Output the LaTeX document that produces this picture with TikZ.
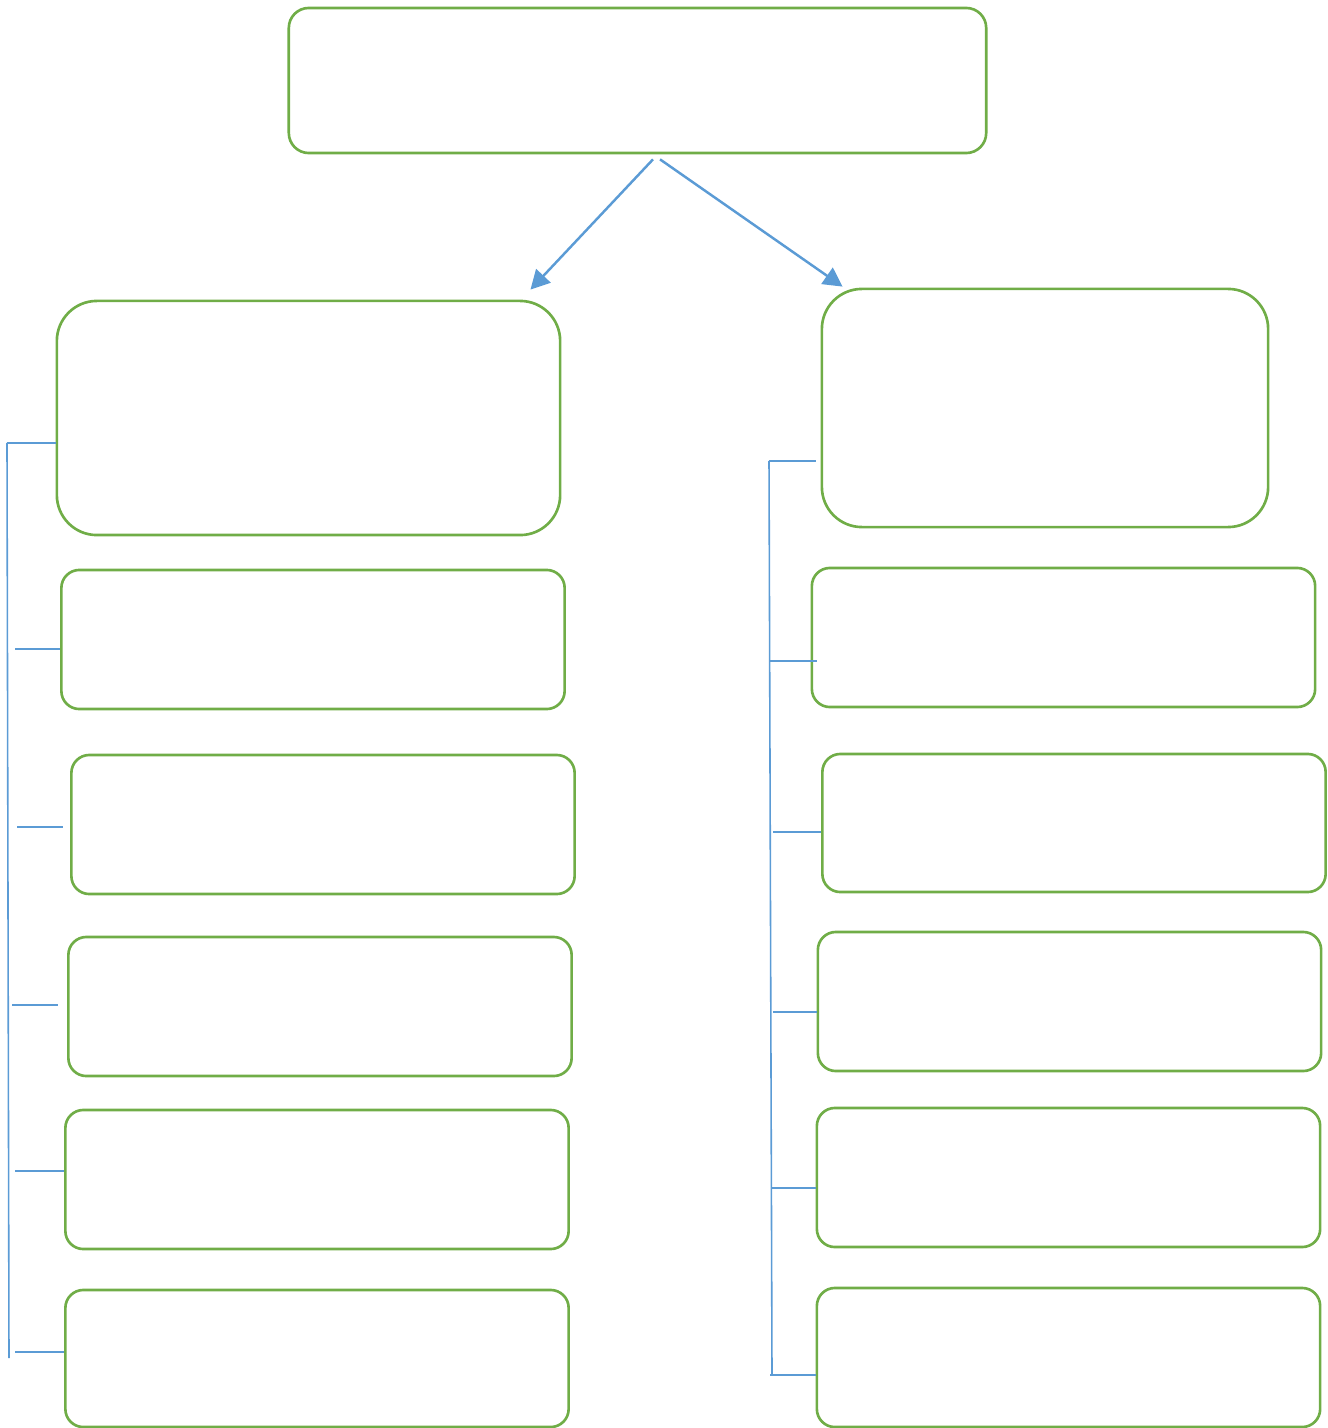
\documentclass[tikz,border=0pt]{standalone}
\usepackage{tikz}
\usetikzlibrary{arrows.meta,calc}

\definecolor{boxgreen}{HTML}{70AD47}
\definecolor{linkblue}{HTML}{5B9BD5}

\begin{document}
\begin{tikzpicture}[
    x=0.01cm, y=-0.01cm,
    block/.style={rectangle, draw=boxgreen, line width=0.75pt, rounded corners=0.18cm, minimum width=5.03cm, minimum height=1.39cm, inner sep=0pt},
    bigblock/.style={block, rounded corners=0.4cm},
    line/.style={draw=linkblue, line width=0.7pt, -{Triangle[length=5.4pt,width=5.6pt]}},
    brace/.style={draw=linkblue, line width=0.45pt}
]
    \useasboundingbox (0,0) rectangle (1328,1428);

    % top box and the two main branches
    \node [block, rounded corners=0.2cm, minimum width=6.97cm, minimum height=1.45cm] (root) at (637.5,80.5) {};
    \node [bigblock, minimum height=2.34cm] (left) at (308.5,418) {};
    \node [bigblock, minimum width=4.46cm, minimum height=2.38cm] (right) at (1045,408) {};

    % left column
    \node [block] (l2) at (313,639.5) {};
    \node [block] (l3) at (323,824.5) {};
    \node [block] (l4) at (320,1006.5) {};
    \node [block] (l5) at (317,1179.5) {};
    \node [block, minimum height=1.37cm] (l6) at (317,1358.5) {};

    % right column
    \node [block] (r2) at (1063.5,637.5) {};
    \node [block, minimum height=1.38cm] (r3) at (1074,823) {};
    \node [block] (r4) at (1069.5,1001.5) {};
    \node [block] (r5) at (1068.5,1177.5) {};
    \node [block] (r6) at (1068.5,1357.5) {};

    \path [line] ([xshift=0.155cm, yshift=-0.05cm]root.south) -- ([shift={(-31,-10)}]left.north east);
    \path [line] ([xshift=0.225cm, yshift=-0.05cm]root.south) -- ([shift={(22,-1)}]right.north west);

    % left bracket
    \coordinate (lt) at (7,443);
    \coordinate (lb) at (9,1358);
    \path [brace] (lt) -- (lb);
    \path [brace] (lt) -- (lt -| left.west);
    \coordinate (t2) at (15,649);
    \coordinate (t3) at (17,827);
    \coordinate (t4) at (12,1005);
    \coordinate (t5) at (15,1171);
    \coordinate (t6) at (15,1352);
    \path [brace] (t2) -- (t2 -| l2.west);
    \path [brace] (t3) -- ([xshift=-0.07cm]t3 -| l3.west);
    \path [brace] (t4) -- ([xshift=-0.09cm]t4 -| l4.west);
    \path [brace] (t5) -- (t5 -| l5.west);
    \path [brace] (t6) -- (t6 -| l6.west);

    % right bracket
    \coordinate (rt) at (769,461);
    \coordinate (rb) at (772,1375);
    \path [brace] (rt) -- (rb);
    \path [brace] (rt) -- ([xshift=-0.05cm]rt -| right.west);
    \coordinate (s2) at (770,661);
    \coordinate (s3) at (773,832);
    \coordinate (s4) at (773,1012);
    \coordinate (s5) at (772,1188);
    \coordinate (s6) at (770,1375);
    \path [brace] (s2) -- ([xshift=0.06cm]s2 -| r2.west);
    \path [brace] (s3) -- (s3 -| r3.west);
    \path [brace] (s4) -- (s4 -| r4.west);
    \path [brace] (s5) -- (s5 -| r5.west);
    \path [brace] (s6) -- (s6 -| r6.west);
\end{tikzpicture}
\end{document}
